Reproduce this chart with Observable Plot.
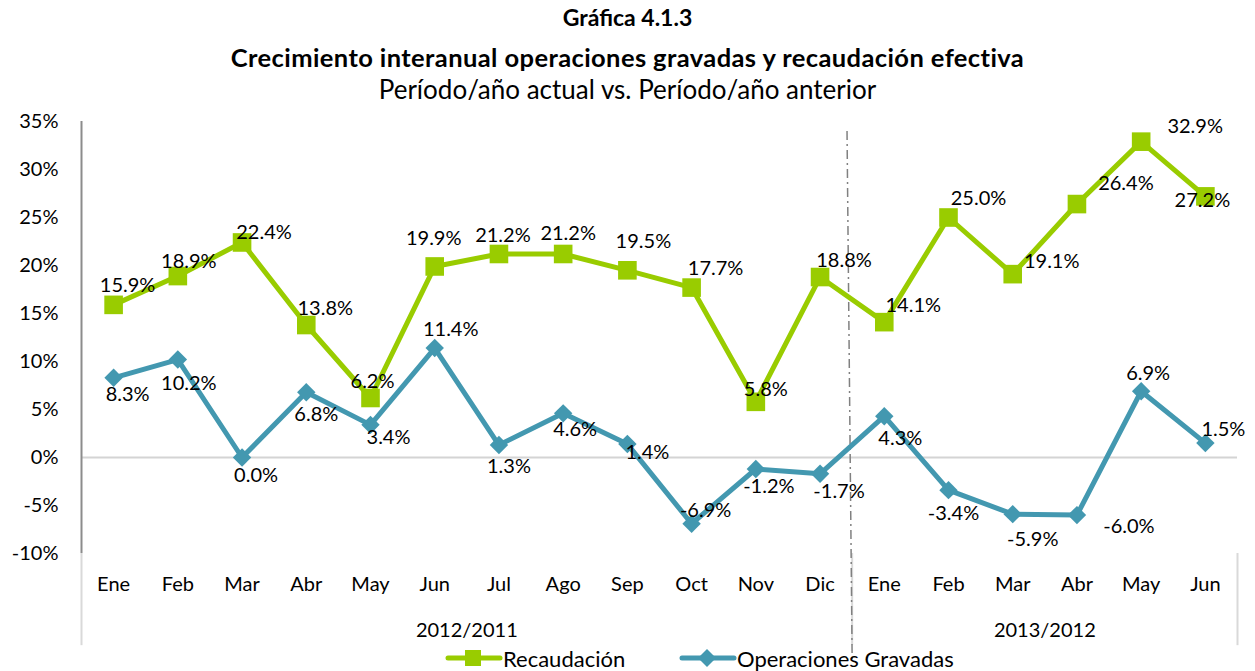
<!DOCTYPE html>
<html><head><meta charset="utf-8">
<script src="https://cdn.jsdelivr.net/npm/d3@7"></script>
<script src="https://cdn.jsdelivr.net/npm/@observablehq/plot@0.6"></script>
<style>
body{margin:0;background:#fff;font-family:Lato,sans-serif;color:#000;}
#wrap{position:relative;width:1255px;height:671px;overflow:hidden;}
.t{position:absolute;left:0;width:1255px;text-align:center;white-space:nowrap;line-height:24px;}
.leg{position:absolute;top:646px;height:24px;display:flex;align-items:center;font-size:22px;white-space:nowrap;}
.leg svg{display:block;}
</style></head><body>
<div id="wrap">
  <div class="t" style="top:5px;font-weight:bold;font-size:23px;">Gráfica 4.1.3</div>
  <div class="t" style="top:45px;font-weight:bold;font-size:25.5px;letter-spacing:0.4px;">Crecimiento interanual operaciones gravadas y recaudación efectiva</div>
  <div class="t" style="top:77px;font-size:26px;">Período/año actual vs. Período/año anterior</div>
  <div id="chart" style="position:absolute;left:0;top:100px;"></div>
  <div id="legend"></div>
</div>
<script>
const months = ["Ene","Feb","Mar","Abr","May","Jun","Jul","Ago","Sep","Oct","Nov","Dic","Ene","Feb","Mar","Abr","May","Jun"];
const recaudacion = [15.9,18.9,22.4,13.8,6.2,19.9,21.2,21.2,19.5,17.7,5.8,18.8,14.1,25.0,19.1,26.4,32.9,27.2];
const operaciones = [8.3,10.2,0.0,6.8,3.4,11.4,1.3,4.6,1.4,-6.9,-1.2,-1.7,4.3,-3.4,-5.9,-6.0,6.9,1.5];
const yTicks = [-10,-5,0,5,10,15,20,25,30,35];
const groupLabels = ["2012/2011","2013/2012"];
const groupFirst = [0,12];
const groupLast = [11,17];
const seriesNames = ["Recaudación","Operaciones Gravadas"];
const seriesColors = ["#99CC00","#4398B0"];

// label offsets (pixels) for data labels
const recDx = [14,11,22,19,2,-1,4,5,16,24,10,24,29,30,39,49,54,-3];
const recDy = [-19,-14,-10,-16,-16,-28,-18,-20,-29,-19,-12,-16,-17,-19,-13,-20,-15,4];
const opDx = [14,11,14,10,18,16,10,12,20,14,13,19,16,5,20,52,7,18];
const opDy = [17,24,18,22,13,-18,22,16,9,-13,18,18,22,23,25,11,-18,-14];

// separator (dash-dot) between the two periods, in data space
const sepX = [11.42, 11.5];
const sepY = [34, -21.2];

const FS = 20;
const idx = (d,i) => i;
const boundaries = [groupFirst[0]-0.5, ...groupLast.map(v => v+0.5)];

const labelMarks = (vals, dxs, dys) => vals.map((v,i) =>
  Plot.text([v], {x: [i], y: [v], text: d => d.toFixed(1) + "%", dx: dxs[i], dy: dys[i],
    fontSize: FS, fill: "#000", textAnchor: "middle", lineAnchor: "middle"}));

const chart = Plot.plot({
  width: 1255, height: 548,
  marginLeft: 81, marginRight: 18, marginTop: 21, marginBottom: 95,
  style: {fontFamily: "Lato, sans-serif", fontSize: "20px", color: "#000", background: "white", overflow: "visible"},
  x: {type: "linear", domain: [-0.5, 17.5], axis: null},
  y: {domain: [-10, 35], axis: null},
  marks: [
    Plot.ruleY([0], {stroke: "#d4d4d4", strokeWidth: 2}),
    Plot.ruleX(boundaries, {y1: -10, y2: -19.6, stroke: "#d9d9d9", strokeWidth: 2}),
    Plot.ruleX([boundaries[0]], {y1: -10, y2: 35, stroke: "#8c8c8c", strokeWidth: 2}),
    Plot.axisY(yTicks, {tickSize: 0, tickPadding: 23, tickFormat: d => d + "%", fontSize: FS, fill: "#000"}),
    Plot.text(months, {x: idx, text: d => d, frameAnchor: "bottom", dy: 37, fontSize: FS, fill: "#000"}),
    Plot.text(groupLabels, {x: (d,i) => (groupFirst[i] + groupLast[i]) / 2, text: d => d, frameAnchor: "bottom", dy: 83, fontSize: FS, fill: "#000"}),
    Plot.link([0], {x1: () => sepX[0], x2: () => sepX[1], y1: () => sepY[0], y2: () => sepY[1],
      stroke: "#808080", strokeWidth: 1.5, strokeDasharray: "9,4,2,4"}),
    Plot.line(recaudacion, {x: idx, y: d => d, stroke: seriesColors[0], strokeWidth: 5}),
    Plot.dot(recaudacion, {x: idx, y: d => d, symbol: "square", r: 10.5, fill: seriesColors[0]}),
    Plot.line(operaciones, {x: idx, y: d => d, stroke: seriesColors[1], strokeWidth: 5}),
    Plot.dot(operaciones, {x: idx, y: d => d, symbol: "diamond2", r: 8.3, fill: seriesColors[1]}),
    ...labelMarks(recaudacion, recDx, recDy),
    ...labelMarks(operaciones, opDx, opDy)
  ]
});
document.getElementById("chart").appendChild(chart);

// legend
const legend = document.getElementById("legend");
const legLefts = [445, 679];
seriesNames.forEach((name, i) => {
  const item = document.createElement("div");
  item.className = "leg";
  item.style.left = legLefts[i] + "px";
  const marker = i === 0
    ? `<rect x="20" y="4" width="16" height="16" fill="${seriesColors[i]}"/>`
    : `<path d="M28,3 L37,12 L28,21 L19,12 Z" fill="${seriesColors[i]}"/>`;
  item.innerHTML = `<svg width="58" height="24"><line x1="3" y1="12" x2="55" y2="12" stroke="${seriesColors[i]}" stroke-width="5" stroke-linecap="round"/>${marker}</svg><span>${name}</span>`;
  legend.appendChild(item);
});
</script>
</body></html>
